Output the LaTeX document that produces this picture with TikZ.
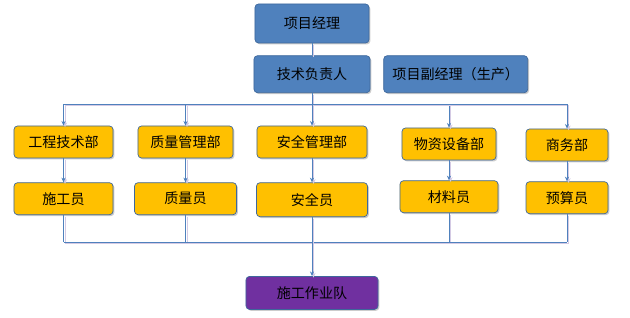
\documentclass[tikz,border=0pt]{standalone}
\usepackage{fontspec}
\newfontfamily\cjk{Noto Sans CJK SC}
\usepackage{tikz}
\usetikzlibrary{arrows.meta, positioning, shadows}
\definecolor{mgrblue}{RGB}{79,129,189}
\definecolor{boxborder}{RGB}{62,104,156}
\definecolor{deptorange}{RGB}{255,192,0}
\definecolor{crewpurple}{RGB}{112,48,160}
\definecolor{linkblue}{RGB}{79,129,189}
\definecolor{linkshade}{RGB}{212,202,228}

\begin{document}
\begin{tikzpicture}[
  x=0.03cm, y=-0.03cm,
  node distance=0.36cm and 0.39cm,
  box/.style={rectangle, rounded corners=3pt, draw=boxborder, line width=0.6pt,
              inner sep=0pt, minimum height=0.96cm,
              text centered, font=\cjk\fontsize{12}{14}\selectfont,
              drop shadow={shadow xshift=1.2pt, shadow yshift=-1.2pt,
                           fill=black!40, opacity=0.5}},
  mgr/.style={box, fill=mgrblue},
  dept/.style={box, fill=deptorange},
  crew/.style={box, fill=crewpurple},
  link/.style={draw=linkblue, line width=0.7pt,
               preaction={draw=linkshade, line width=0.7pt,
                          transform canvas={shift={(1.3pt,-1.3pt)}}}},
  arrow/.style={link, -{Stealth[length=4pt, width=3.5pt]}}
]
\useasboundingbox (0,0) rectangle (630,318);

% management
\node[mgr, minimum width=3.42cm, minimum height=1.17cm] (pm) at (312,23.5) {项目经理};
\node[mgr, minimum width=3.48cm, minimum height=1.11cm, below=of pm] (tech) {技术负责人};
\node[mgr, minimum width=4.32cm, minimum height=1.11cm, right=of tech] (deputy) {项目副经理（生产）};

% departments
\node[dept, minimum width=2.97cm] (eng)  at (63.5,142)  {工程技术部};
\node[dept, minimum width=2.85cm] (qual) at (185.5,142) {质量管理部};
\node[dept, minimum width=3.30cm] (safe) at (312,142)   {安全管理部};
\node[dept, minimum width=2.82cm] (mat)  at (449,144)   {物资设备部};
\node[dept, minimum width=2.46cm] (biz)  at (567,145)   {商务部};

% staff
\node[dept, minimum width=2.97cm, below=0.72cm of eng]  (worker)    {施工员};
\node[dept, minimum width=3.06cm, below=0.72cm of qual] (inspector) {质量员};
\node[dept, minimum width=3.33cm, minimum height=1.02cm, below=0.72cm of safe] (safety) {安全员};
\node[dept, minimum width=2.94cm, below=0.6cm of mat]  (material)  {材料员};
\node[dept, minimum width=2.46cm, below=0.6cm of biz]  (budget)    {预算员};

\node[crew, minimum width=3.96cm, minimum height=0.99cm, below=1.77cm of safety] (team) {施工作业队};

\coordinate[below=0.33cm of tech] (topbus);
\coordinate[below=0.81cm of worker] (lowbus);

\draw[link] (pm) -- (tech);
\draw[link] (tech) -- (topbus);
\foreach \d in {eng, qual, safe, mat, biz}
  \draw[arrow] (topbus) -| (\d);
\foreach \d/\s in {eng/worker, qual/inspector, safe/safety, mat/material, biz/budget}
  \draw[arrow] (\d) -- (\s);
\foreach \s in {worker, inspector, material, budget}
  \draw[link] (\s) -- (\s |- lowbus);
\draw[link] (worker |- lowbus) -- (budget |- lowbus);
\draw[arrow] (safety) -- (team);
\end{tikzpicture}
\end{document}
